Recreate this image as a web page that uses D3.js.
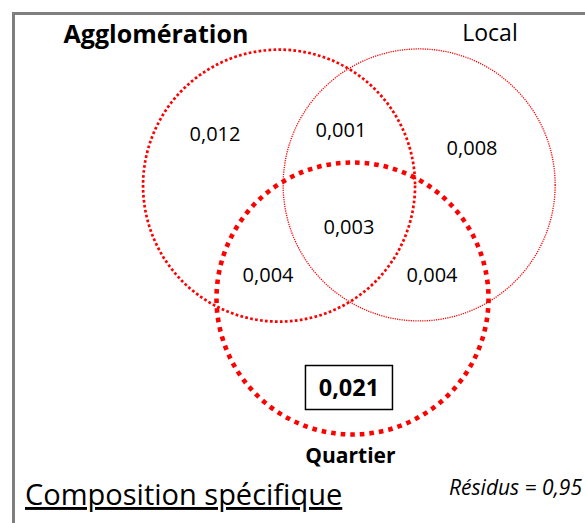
<!DOCTYPE html>
<meta charset="utf-8">
<script src="https://cdn.jsdelivr.net/npm/d3@7"></script>
<style>
body { margin: 0; background: #fff; }
text { font-family: "Open Sans", sans-serif; fill: #000; }
</style>
<body>
<script>

// data
var sets = ["Agglomération", "Local", "Quartier"]
var regions = ["A", "AL", "L", "ALQ", "AQ", "LQ", "Q"]
var values = [0.012, 0.001, 0.008, 0.003, 0.004, 0.004, 0.021]
var residualLabel = "Résidus"
var residual = 0.95
var title = "Composition spécifique"

var width = 585
var height = 523

var fr = d3.formatLocale({decimal: ",", thousands: " ", grouping: [3], currency: ["", " €"]})
var fmt3 = fr.format(".3f")
var fmt2 = fr.format(".2f")

// layout in venn units (circle radius = 1)
var circles = [
  {set: "Agglomération", cx: -0.54, cy: -0.83, stroke: 2.7, dash: "2.7,2.3"},
  {set: "Local",         cx:  0.49, cy: -0.835, stroke: 1.3, dash: "1.2,1.1"},
  {set: "Quartier",      cx:  0.0,  cy:  0.0,  stroke: 4.6, dash: "4.6,5"}
]
var setLabels = {
  "Agglomération": {x: -1.445, y: -1.879, weight: "bold", size: 25},
  "Local":         {x: 1.011,  y: -1.893, weight: "normal", size: 23},
  "Quartier":      {x: -0.015, y: 1.21,   weight: "bold", size: 21}
}
var regionPos = {
  "A":   [-1.011, -1.158],
  "AL":  [-0.085, -1.188],
  "L":   [0.879,  -1.055],
  "ALQ": [-0.026, -0.474],
  "AQ":  [-0.621, -0.121],
  "LQ":  [0.585,  -0.121],
  "Q":   [-0.026, 0.717]
}

var x = d3.scaleLinear().domain([-1, 1]).range([216.5, 488.5])
var y = d3.scaleLinear().domain([-1, 1]).range([162.5, 434.5])
var r = (x(1) - x(-1)) / 2

var svg = d3.select("body").append("svg")
  .attr("width", width)
  .attr("height", height)

// frame
svg.append("rect")
  .attr("x", 13.5).attr("y", 13.5)
  .attr("width", 620).attr("height", 560)
  .attr("fill", "none")
  .attr("stroke", "#7f7f7f")
  .attr("stroke-width", 3)

svg.selectAll(".set")
  .data(circles)
  .enter().append("circle")
    .attr("class", "set")
    .attr("cx", function(d) { return x(d.cx) })
    .attr("cy", function(d) { return y(d.cy) })
    .attr("r", r)
    .attr("fill", "none")
    .attr("stroke", "#ff0000")
    .attr("stroke-width", function(d) { return d.stroke })
    .attr("stroke-dasharray", function(d) { return d.dash })

svg.selectAll(".setlabel")
  .data(sets)
  .enter().append("text")
    .attr("class", "setlabel")
    .attr("x", function(d) { return x(setLabels[d].x) })
    .attr("y", function(d) { return y(setLabels[d].y) })
    .attr("text-anchor", "middle")
    .attr("font-weight", function(d) { return setLabels[d].weight })
    .attr("font-size", function(d) { return setLabels[d].size })
    .text(function(d) { return d })

// box around the quartier-only value
svg.append("rect")
  .attr("x", x(regionPos.Q[0]) - 43.5).attr("y", 365.5)
  .attr("width", 87).attr("height", 44)
  .attr("fill", "#fff")
  .attr("stroke", "#000")
  .attr("stroke-width", 1.5)

svg.selectAll(".val")
  .data(regions.map(function(k, i) { return {key: k, value: values[i]} }))
  .enter().append("text")
    .attr("class", "val")
    .attr("x", function(d) { return x(regionPos[d.key][0]) })
    .attr("y", function(d) { return y(regionPos[d.key][1]) })
    .attr("text-anchor", "middle")
    .attr("font-size", function(d) { return d.key == "Q" ? 23.5 : 20 })
    .attr("font-weight", function(d) { return d.key == "Q" ? "bold" : "normal" })
    .text(function(d) { return fmt3(d.value) })

svg.append("text")
  .attr("x", 582).attr("y", 495)
  .attr("text-anchor", "end")
  .attr("font-size", 21)
  .attr("font-style", "italic")
  .text(residualLabel + " = " + fmt2(residual))

svg.append("text")
  .attr("x", 25).attr("y", 505)
  .attr("font-size", 29)
  .attr("text-decoration", "underline")
  .text(title)

</script>
</body>
